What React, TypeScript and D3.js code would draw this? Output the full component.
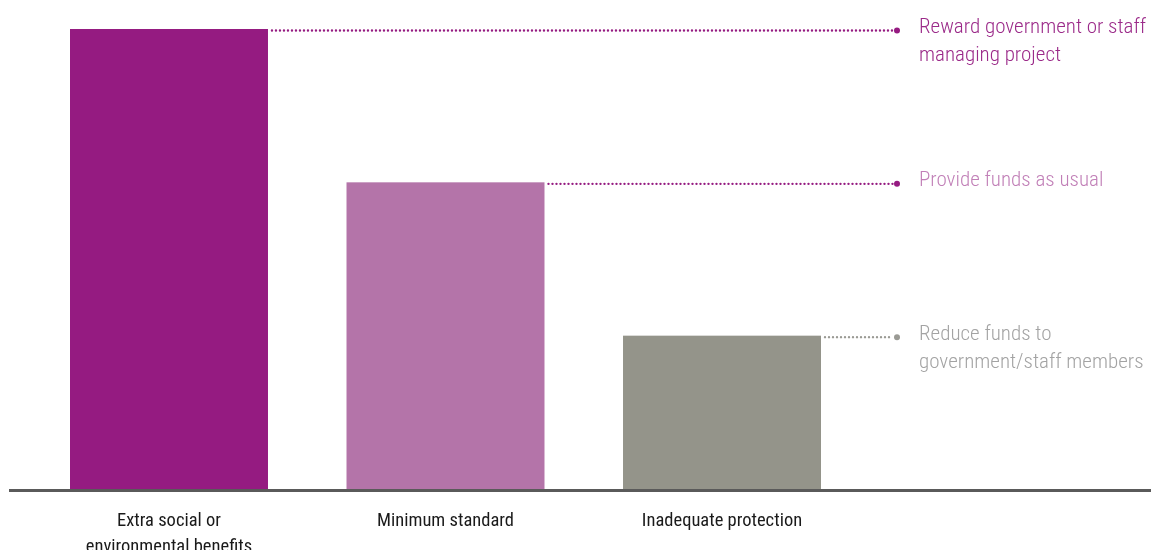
import React from 'react';
import * as d3 from 'd3';

// chart data
const categories = ['Extra social or environmental benefits', 'Minimum standard', 'Inadequate protection'];
const categoryLines = [['Extra social or', 'environmental benefits'], ['Minimum standard'], ['Inadequate protection']];
const values = [3, 2, 1];
const outcomeLines = [
  ['Reward government or staff', 'managing project'],
  ['Provide funds as usual'],
  ['Reduce funds to', 'government/staff members'],
];

const barColors = ['#951b81', '#b474a9', '#94948a'];
const dotColors = ['#951b81', '#951b81', '#9a9a94'];
const labelColors = ['#9b2a89', '#c17fb7', '#a3a3a3'];

const WIDTH = 1151;
const HEIGHT = 550;
const FONT = '"Roboto Condensed", "Liberation Sans Narrow", "Arial Narrow", sans-serif';

export default function App(): React.ReactElement {
  const x = d3.scaleBand<string>()
    .domain(categories)
    .range([70, 821])
    .paddingInner(0.284)
    .paddingOuter(0);

  const y = d3.scaleLinear()
    .domain([0, 3])
    .range([489, 29]);

  const baselineY = y(0) + 1.5;
  const dotEnd = 897;
  const labelX = 919;

  return (
    <div style={{ position: 'fixed', left: 0, top: 0 }}>
      <svg width={WIDTH} height={HEIGHT} style={{ display: 'block', fontFamily: FONT }}>
        {categories.map((c, i) => {
          const bx = x(c) ?? 0;
          const top = y(values[i]);
          return (
            <g key={c}>
              <rect x={bx} y={top} width={x.bandwidth()} height={y(0) - top} fill={barColors[i]} />
              <line
                x1={bx + x.bandwidth() + 4}
                x2={dotEnd - 4}
                y1={top + 1.5}
                y2={top + 1.5}
                stroke={dotColors[i]}
                strokeWidth={2.4}
                strokeLinecap="round"
                strokeDasharray="0 4"
              />
              <circle cx={dotEnd} cy={top + 1.5} r={3} fill={dotColors[i]} />
              {outcomeLines[i].map((t, j) => (
                <text key={j} x={labelX} y={top + 4 + j * 28} fontSize={21} fontWeight={300} fill={labelColors[i]}>
                  {t}
                </text>
              ))}
              {categoryLines[i].map((t, j) => (
                <text
                  key={j}
                  x={bx + x.bandwidth() / 2}
                  y={526 + j * 26}
                  fontSize={18.5}
                  fill="#1a1a1a"
                  textAnchor="middle"
                >
                  {t}
                </text>
              ))}
            </g>
          );
        })}
        <line x1={9} x2={WIDTH} y1={baselineY} y2={baselineY} stroke="#5a5a5a" strokeWidth={3} />
      </svg>
    </div>
  );
}
